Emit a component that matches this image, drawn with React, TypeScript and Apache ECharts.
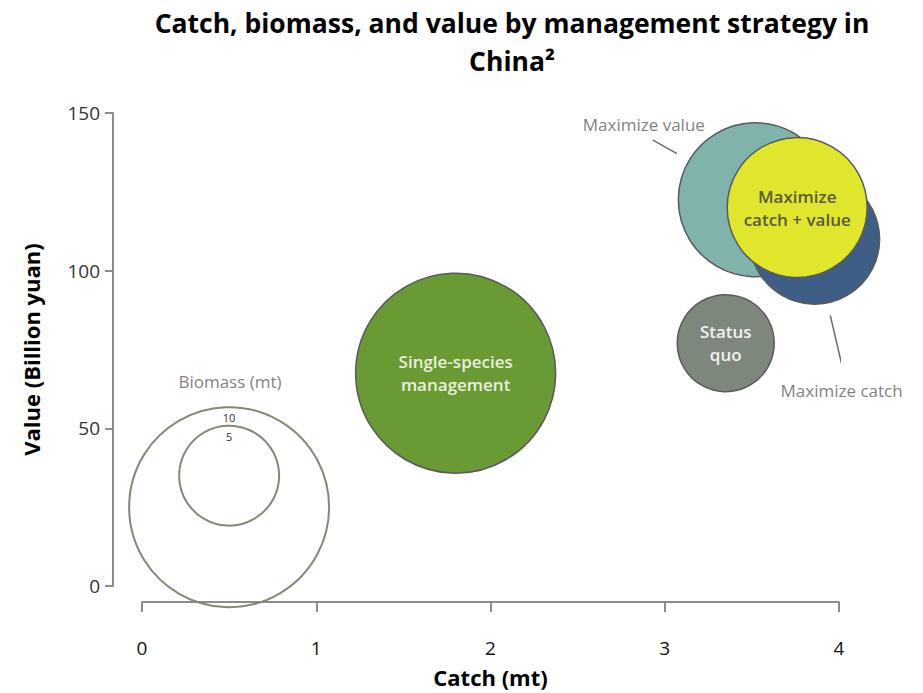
import React, { useEffect, useRef } from 'react';
import * as echarts from 'echarts';

// ---------- data ----------
const TITLE_LINES = ['Catch, biomass, and value by management strategy in', 'China²'];
const X_NAME = 'Catch (mt)';
const Y_NAME = 'Value (Billion yuan)';
const X_MIN = 0;
const X_MAX = 4;
const X_INTERVAL = 1;
const Y_MIN = 0;
const Y_MAX = 150;
const Y_INTERVAL = 50;

// management strategies (bubbles): catch (mt), value (bn yuan), biomass (mt)
const strategies = ['Maximize value', 'Maximize catch', 'Maximize catch + value', 'Single-species management', 'Status quo'];
const catchMt = [3.52, 3.86, 3.76, 1.8, 3.35];
const valueBn = [122.5, 110, 120, 67.5, 77];
const biomassMt = [7.7, 6.5, 7.0, 10.0, 4.85];
const bubbleLabels = ['', '', 'Maximize\ncatch + value', 'Single-species\nmanagement', 'Status\nquo'];
const bubbleColors = ['#80b3ac', '#3f5e86', '#dfe62b', '#6a9a34', '#7e877c'];
const bubbleTextColors = ['#333', '#fff', '#5a5a3c', '#e9f0de', '#f2f2f2'];

// biomass size legend
const legendBiomass = [10, 5];
const legendCatch = [0.5, 0.5];
const legendValue = [25, 35];

// annotation labels (data coordinates)
const annotationTexts = ['Biomass (mt)', 'Maximize value', 'Maximize catch'];
const annotationX = [0.505, 2.88, 4.015];
const annotationY = [65, 146.5, 62];

// leader lines (data coordinates)
const leaderValue = [[2.93, 141.5], [3.07, 137.1]];
const leaderCatch = [[3.95, 85.8], [4.03, 66.9]];

const PX_PER_MT = 20; // bubble diameter per mt of biomass

const FONT = '"Open Sans", "Noto Sans", sans-serif';
const AXIS_COLOR = '#8c8c8c';

export default function App() {
  const ref = useRef<HTMLDivElement>(null);

  useEffect(() => {
    document.body.style.margin = '0';
    if (!ref.current) return;
    const chart = echarts.init(ref.current, undefined, { renderer: 'svg' });

    const bubbleData = strategies.map((name, i) => ({
      name,
      value: [catchMt[i], valueBn[i], biomassMt[i]],
      itemStyle: { color: bubbleColors[i], opacity: 1 },
      label: {
        show: bubbleLabels[i] !== '',
        formatter: bubbleLabels[i],
        position: 'inside',
        color: bubbleTextColors[i],
        fontSize: 17,
        fontWeight: 600,
        lineHeight: 23,
        fontFamily: FONT,
      },
    }));

    const legendData = legendBiomass.map((b, i) => ({
      name: String(b),
      value: [legendCatch[i], legendValue[i], b],
      label: { color: '#333' },
    }));

    const annotationData = annotationTexts.map((t, i) => ({
      name: t,
      value: [annotationX[i], annotationY[i]],
    }));

    const leaderSeries = [leaderValue, leaderCatch].map((pts) => ({
      type: 'line',
      data: pts,
      symbol: 'none',
      clip: false,
      silent: true,
      lineStyle: { color: '#6b6b6b', width: 1.5 },
      z: 1,
    }));

    chart.setOption({
      animation: false,
      backgroundColor: '#ffffff',
      graphic: TITLE_LINES.map((t, i) => ({
        type: 'text',
        x: 512,
        y: 23 + i * 38,
        style: {
          text: t,
          fill: '#000',
          font: `bold 26.5px ${FONT}`,
          textAlign: 'center',
          textVerticalAlign: 'middle',
        },
      })),
      grid: { left: 142, right: 84, top: 113, bottom: 104, containLabel: false },
      xAxis: {
        type: 'value',
        min: X_MIN,
        max: X_MAX,
        interval: X_INTERVAL,
        offset: 16,
        name: X_NAME,
        nameLocation: 'middle',
        nameGap: 64,
        nameTextStyle: { fontFamily: FONT, fontWeight: 'bold', fontSize: 22, color: '#000' },
        axisLine: { show: true, onZero: false, lineStyle: { color: AXIS_COLOR, width: 2 } },
        axisTick: { show: true, length: 10, lineStyle: { color: AXIS_COLOR, width: 2 } },
        axisLabel: { fontFamily: FONT, fontSize: 19, color: '#111', margin: 36 },
        splitLine: { show: false },
      },
      yAxis: {
        type: 'value',
        min: Y_MIN,
        max: Y_MAX,
        interval: Y_INTERVAL,
        offset: 29,
        name: Y_NAME,
        nameLocation: 'middle',
        nameGap: 71,
        nameTextStyle: { fontFamily: FONT, fontWeight: 'bold', fontSize: 22, color: '#000' },
        axisLine: { show: true, onZero: false, lineStyle: { color: AXIS_COLOR, width: 2 } },
        axisTick: { show: true, length: 8, lineStyle: { color: AXIS_COLOR, width: 2 } },
        axisLabel: { fontFamily: FONT, fontSize: 19, color: '#333', margin: 13 },
        splitLine: { show: false },
      },
      series: [
        ...leaderSeries,
        {
          type: 'scatter',
          name: 'legend',
          data: legendData,
          clip: false,
          silent: true,
          symbolSize: (v: number[]) => v[2] * PX_PER_MT,
          itemStyle: { color: 'rgba(255,255,255,0)', borderColor: '#8a8576', borderWidth: 2, opacity: 1 },
          label: {
            show: true,
            position: 'insideTop',
            distance: 6,
            formatter: (p: any) => String(p.value[2]),
            fontFamily: FONT,
            fontSize: 11,
            color: '#333',
          },
          z: 2,
        },
        {
          type: 'scatter',
          name: 'strategies',
          data: bubbleData,
          clip: false,
          silent: true,
          symbolSize: (v: number[]) => v[2] * PX_PER_MT,
          itemStyle: { borderColor: '#5a5a5a', borderWidth: 1.5, opacity: 1 },
          z: 3,
        },
        {
          type: 'scatter',
          name: 'annotations',
          data: annotationData,
          clip: false,
          silent: true,
          symbolSize: 1,
          itemStyle: { color: 'rgba(0,0,0,0)' },
          label: {
            show: true,
            position: 'inside',
            formatter: (p: any) => p.name,
            fontFamily: FONT,
            fontSize: 17,
            color: '#5e5e5e',
          },
          z: 4,
        },
      ],
    });

    return () => {
      chart.dispose();
    };
  }, []);

  return <div ref={ref} style={{ width: 923, height: 693 }} />;
}
